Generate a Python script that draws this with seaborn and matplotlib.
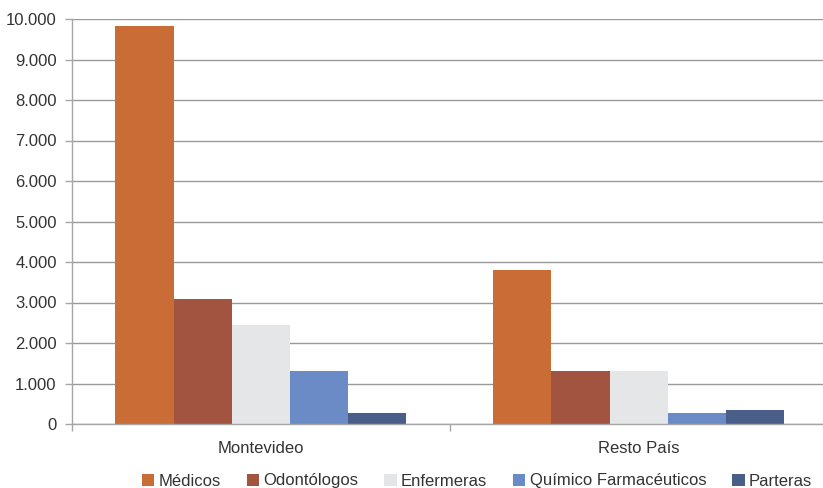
import matplotlib
matplotlib.use("Agg")
import matplotlib.pyplot as plt
import matplotlib.ticker as mticker
import seaborn as sns
import pandas as pd

regions = ["Montevideo", "Resto País"]
professions = ["Médicos", "Odontólogos", "Enfermeras", "Químico Farmacéuticos", "Parteras"]
medicos = [9820, 3800]
odontologos = [3080, 1320]
enfermeras = [2440, 1320]
quimicos = [1300, 265]
parteras = [270, 340]
colors = ["#C96C36", "#A35441", "#E5E6E8", "#6B8BC7", "#4A5E8A"]
yticks = list(range(0, 10001, 1000))

series = [medicos, odontologos, enfermeras, quimicos, parteras]
rows = []
for p, vals in zip(professions, series):
    for r, v in zip(regions, vals):
        rows.append({"region": r, "profession": p, "value": v})
df = pd.DataFrame(rows)

sns.set_style("white")
plt.rcParams["font.family"] = ["Liberation Sans", "DejaVu Sans"]

fig = plt.figure(figsize=(8.23, 4.88), dpi=100)
W, H = 823, 488
left, right, top, bottom = 72, 827.5, 19, 424
ax = fig.add_axes([left / W, (H - bottom) / H, (right - left) / W, (bottom - top) / H])

sns.barplot(data=df, x="region", y="value", hue="profession", order=regions,
            hue_order=professions, palette=colors, saturation=1, width=0.77,
            linewidth=0, ax=ax)

ax.set_xlim(-0.5, 1.5)
ax.set_ylim(0, 10000)
ax.set_yticks(yticks)
ax.yaxis.set_major_formatter(mticker.FuncFormatter(lambda v, p: f"{int(v):,}".replace(",", ".")))
ax.set_xlabel("")
ax.set_ylabel("")
ax.grid(axis="y", color="#999999", linewidth=1)
ax.set_axisbelow(True)
for s in ["top", "right"]:
    ax.spines[s].set_visible(False)
for s in ["left", "bottom"]:
    ax.spines[s].set_color("#A6A6A6")
    ax.spines[s].set_linewidth(1)

ax.tick_params(axis="y", length=5, width=1, color="#A6A6A6", pad=6, labelsize=12, labelcolor="#333333", left=True)
ax.tick_params(axis="x", which="major", length=0, pad=12, labelsize=12, labelcolor="#333333")
ax.set_xticks([-0.5, 0.5, 1.5], minor=True)
ax.tick_params(axis="x", which="minor", length=5, width=1, color="#A6A6A6", bottom=True)

handles, labels = ax.get_legend_handles_labels()
if ax.get_legend() is not None:
    ax.get_legend().remove()
fig.legend(handles, labels, loc="center", bbox_to_anchor=(477 / W, (H - 481) / H),
           ncol=5, frameon=False, fontsize=12, handlelength=0.75, handleheight=0.75,
           handletextpad=0.25, columnspacing=1.55, labelcolor="#333333", borderaxespad=0,
           borderpad=0)

fig.savefig("out.png", dpi=100)
